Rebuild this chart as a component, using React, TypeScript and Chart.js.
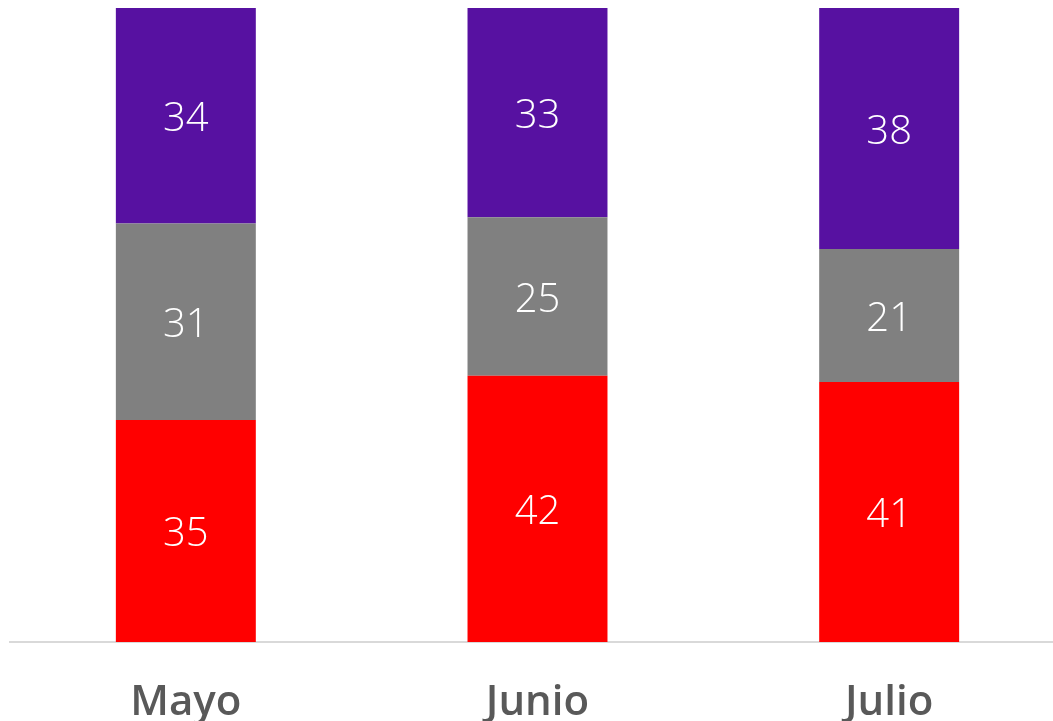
import React, { useEffect, useRef } from "react";
import { Chart, registerables } from "chart.js";

Chart.register(...registerables);

const categories = ["Mayo", "Junio", "Julio"];
const redValues = [35, 42, 41];
const grayValues = [31, 25, 21];
const purpleValues = [34, 33, 38];

const valueLabelPlugin = {
  id: "valueLabels",
  afterDatasetsDraw(chart: any) {
    const ctx = chart.ctx;
    ctx.save();
    ctx.fillStyle = "#FFFFFF";
    ctx.font = "300 40px 'Open Sans'";
    ctx.textAlign = "center";
    ctx.textBaseline = "middle";
    chart.data.datasets.forEach((ds: any, i: number) => {
      const meta = chart.getDatasetMeta(i);
      meta.data.forEach((el: any, j: number) => {
        const cy = (el.y + el.base) / 2;
        ctx.fillText(String(ds.data[j]), el.x, cy + 4);
      });
    });
    ctx.restore();
  },
};

export default function App() {
  const ref = useRef<HTMLCanvasElement | null>(null);
  useEffect(() => {
    if (!ref.current) return;
    const common = { categoryPercentage: 1, barPercentage: 0.398 };
    const chart = new Chart(ref.current, {
      type: "bar",
      data: {
        labels: categories,
        datasets: [
          { label: "Rojo", data: redValues, backgroundColor: "#FF0000", ...common },
          { label: "Gris", data: grayValues, backgroundColor: "#808080", ...common },
          { label: "Morado", data: purpleValues, backgroundColor: "#5711A1", ...common },
        ],
      },
      options: {
        animation: false,
        responsive: false,
        maintainAspectRatio: false,
        layout: { padding: { left: 10, right: 0, top: 8, bottom: 0 } },
        plugins: { legend: { display: false }, tooltip: { enabled: false } },
        scales: {
          x: {
            stacked: true,
            grid: { display: false, drawTicks: false },
            border: { display: true, color: "#D9D9D9", width: 2 },
            ticks: {
              color: "#595959",
              font: { family: "'Open Sans'", size: 42, weight: "600" },
              padding: 36,
            },
            afterFit: (scale: any) => {
              scale.height = 79;
            },
          } as any,
          y: {
            stacked: true,
            display: false,
            min: 0,
            max: 100,
          },
        },
      },
      plugins: [valueLabelPlugin],
    });
    return () => chart.destroy();
  }, []);
  return (
    <div style={{ position: "fixed", left: 0, top: 0, width: 1065, height: 721 }}>
      <canvas ref={ref} width={1065} height={721} style={{ display: "block" }} />
    </div>
  );
}
